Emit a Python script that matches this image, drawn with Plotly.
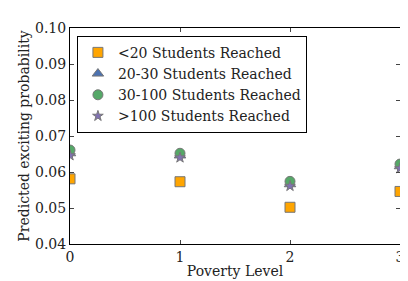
import plotly.graph_objects as go

poverty = [0, 1, 2, 3]
series_names = ["<20 Students Reached", "20-30 Students Reached",
                "30-100 Students Reached", ">100 Students Reached"]
lt20 = [0.0581, 0.0573, 0.0502, 0.0546]
s20_30 = [0.0652, 0.0646, 0.0566, 0.0616]
s30_100 = [0.0661, 0.0652, 0.0574, 0.0622]
gt100 = [0.0646, 0.0640, 0.0561, 0.0610]
err = [0.0003, 0.0003, 0.0003, 0.0003]

colors = ["#FFA500", "#4C72B0", "#55A868", "#8172B2"]
symbols = ["square", "triangle-up", "circle", "star"]
sizes = [10, 10, 10, 8]

fig = go.Figure()
for name, vals, c, s, sz in zip(series_names, [lt20, s20_30, s30_100, gt100], colors, symbols, sizes):
    fig.add_trace(go.Scatter(
        x=poverty, y=vals, mode="markers", name=name,
        marker=dict(symbol=s, size=sz, color=c, line=dict(color="#777777", width=1)),
        error_y=dict(type="data", array=err, color=c, thickness=1, width=3),
    ))

font = "DejaVu Serif"
fig.update_layout(
    width=408, height=281,
    margin=dict(l=62, r=12, t=14, b=45),
    paper_bgcolor="white", plot_bgcolor="white",
    font=dict(family=font, size=14, color="#222222"),
    showlegend=True,
    legend=dict(x=0.021, y=0.964, xanchor="left", yanchor="top",
                bordercolor="black", borderwidth=1, bgcolor="white",
                font=dict(family=font, size=14, color="#222222"),
                tracegroupgap=0),
)
fig.update_xaxes(range=[0, 3], tickvals=[0, 1, 2, 3], ticks="inside", ticklen=4,
                 showline=True, linecolor="black", linewidth=1, mirror="ticks",
                 showgrid=False, zeroline=False,
                 title=dict(text="Poverty Level", font=dict(family=font, size=14), standoff=2),
                 tickfont=dict(family=font, size=14))
fig.update_yaxes(range=[0.04, 0.10], dtick=0.01, tickformat=".2f", ticks="inside", ticklen=4,
                 showline=True, linecolor="black", linewidth=1, mirror="ticks",
                 showgrid=False, zeroline=False,
                 title=dict(text="Predicted exciting probability", font=dict(family=font, size=14), standoff=2),
                 tickfont=dict(family=font, size=14))
fig.write_html("out.html")
